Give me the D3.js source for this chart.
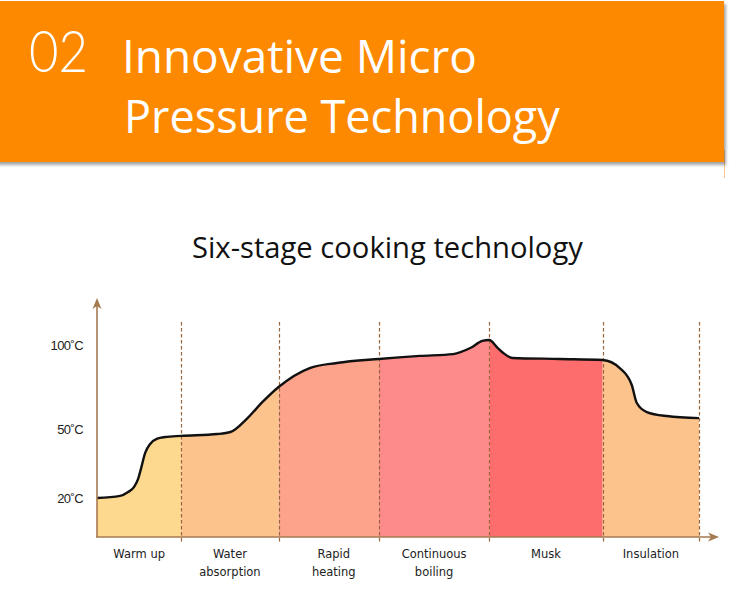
<!DOCTYPE html>
<html><head><meta charset="utf-8">
<script src="https://cdn.jsdelivr.net/npm/d3@7"></script>
<style>html,body{margin:0;padding:0;background:#fff;}svg{display:block;}</style>
</head><body>
<svg id="c" width="750" height="616"></svg>
<script>
// ---- data ----
const stageNames = [["Warm up"],["Water","absorption"],["Rapid","heating"],["Continuous","boiling"],["Musk"],["Insulation"]];
const stageBounds = [0, 8.4, 18.1, 28.1, 39.1, 50.4, 60];
const stageColors = ["#fdd990","#fdc38d","#fda28b","#fe8b8c","#fe6d6d","#fdc38d"];
const timeVals = [0, 2.3, 3.1, 3.7, 4.1, 4.4, 4.8, 5.3, 6.0, 6.8, 8.4, 12.0, 13.3, 15.0, 16.5, 18.1, 21.2, 23.9, 28.1, 32.2, 35.5, 37.2, 38.4, 39.1, 39.9, 40.5, 41.4, 46.1, 50.4, 52.1, 53.3, 53.8, 54.8, 56.8, 60];
const tempVals = [20, 20.9, 22.6, 24.8, 28.3, 33, 39.6, 43.5, 45.8, 46.5, 47, 47.8, 48.7, 56.5, 66.1, 75, 86.3, 89.3, 91.7, 93.5, 94.6, 98.2, 102.4, 103, 98.5, 95.2, 92.3, 91.7, 91.1, 86.3, 76.2, 65.5, 60.1, 57.7, 56.5];
const yTicks = [20, 50, 100];
const yTickLabels = ["20\u02daC","50\u02daC","100\u02daC"];

const svg = d3.select("#c");

// ---- header ----
const defs = svg.append("defs");
const sh = defs.append("filter").attr("id","sh").attr("x","-5%").attr("y","-5%").attr("width","115%").attr("height","125%");
sh.append("feDropShadow").attr("dx",2).attr("dy",3).attr("stdDeviation",1.6).attr("flood-color","#000").attr("flood-opacity",0.35);
svg.append("line").attr("x1",724.5).attr("x2",724.5).attr("y1",150).attr("y2",178).attr("stroke","#f9c88c").attr("stroke-width",1);
svg.append("rect").attr("x",-5).attr("y",1).attr("width",729).attr("height",161).attr("fill","#fd8900").attr("filter","url(#sh)");

function fitText(sel, target){
  const w = sel.node().getComputedTextLength();
  const fs = parseFloat(sel.attr("font-size"));
  sel.attr("font-size", fs*target/w);
}
svg.append("text").attr("x",29).attr("y",72).attr("fill","#fff")
  .attr("font-family","Lato").attr("font-weight",300).attr("font-size",58)
  .attr("textLength",59).attr("lengthAdjust","spacingAndGlyphs").text("02");
const h1 = svg.append("text").attr("x",122).attr("y",73).attr("fill","#fff")
  .attr("font-family","Open Sans").attr("font-weight",400).attr("font-size",48).text("Innovative Micro");
fitText(h1, 355);
const h2 = svg.append("text").attr("x",124).attr("y",133).attr("fill","#fff")
  .attr("font-family","Open Sans").attr("font-weight",400).attr("font-size",48).text("Pressure Technology");
fitText(h2, 436);

const sub = svg.append("text").attr("x",192).attr("y",258).attr("fill","#111")
  .attr("font-family","Open Sans").attr("font-size",26).text("Six-stage cooking technology");
fitText(sub, 391);

// ---- scales ----
const x = d3.scaleLinear().domain([0,60]).range([97,699]);
const y = d3.scaleLinear().domain([0,20,50,100]).range([537,498,429,345]);

const pts = timeVals.map((t,i)=>[t,tempVals[i]]);
const area = d3.area().x(d=>x(d[0])).y0(y(0)).y1(d=>y(d[1])).curve(d3.curveMonotoneX);
const line = d3.line().x(d=>x(d[0])).y(d=>y(d[1])).curve(d3.curveMonotoneX);

defs.append("clipPath").attr("id","ac").append("path").attr("d", area(pts));
const g = svg.append("g").attr("clip-path","url(#ac)");
g.selectAll("rect").data(stageColors).join("rect")
  .attr("x",(d,i)=>x(stageBounds[i]))
  .attr("width",(d,i)=>x(stageBounds[i+1])-x(stageBounds[i]))
  .attr("y",y(110)).attr("height",y(0)-y(110))
  .attr("fill",d=>d);

// dashed stage lines
svg.selectAll("line.dash").data(stageBounds.slice(1)).join("line").attr("class","dash")
  .attr("x1",d=>Math.round(x(d))+0.5).attr("x2",d=>Math.round(x(d))+0.5)
  .attr("y1",322).attr("y2",y(0)+5)
  .attr("stroke","#98653a").attr("stroke-width",1.2).attr("stroke-dasharray","3.5,2.5");

// curve
svg.append("path").attr("d", line(pts)).attr("fill","none").attr("stroke","#111").attr("stroke-width",2.4).attr("stroke-linejoin","round");

// axes
const axCol = "#a57a50";
svg.append("line").attr("x1",97).attr("x2",97).attr("y1",y(0)).attr("y2",305).attr("stroke",axCol).attr("stroke-width",1.6);
svg.append("path").attr("d","M97,298 L92.5,309 L97,306 L101.5,309 Z").attr("fill",axCol);
svg.append("line").attr("x1",96).attr("x2",712).attr("y1",y(0)).attr("y2",y(0)).attr("stroke",axCol).attr("stroke-width",1.6);
svg.append("path").attr("d",`M719,${y(0)} L708,${y(0)-4.5} L711,${y(0)} L708,${y(0)+4.5} Z`).attr("fill",axCol);

// y tick labels
svg.selectAll("text.yt").data(yTicks).join("text").attr("class","yt")
  .attr("x",83).attr("y",d=>y(d)+5).attr("text-anchor","end")
  .attr("font-family","Liberation Sans").attr("font-size",13).attr("letter-spacing",-0.6).attr("fill","#222")
  .text((d,i)=>yTickLabels[i]);

// stage labels
const lg = svg.selectAll("text.st").data(stageNames).join("text").attr("class","st")
  .attr("text-anchor","middle").attr("font-family","DejaVu Sans").attr("font-size",11.5).attr("fill","#222")
  .attr("transform",(d,i)=>`translate(${(x(stageBounds[i])+x(stageBounds[i+1]))/2+(i==2?5:0)},558)`);
lg.selectAll("tspan").data(d=>d).join("tspan").attr("x",0).attr("dy",(d,j)=>j?18:0).text(d=>d);
</script>
</body></html>
